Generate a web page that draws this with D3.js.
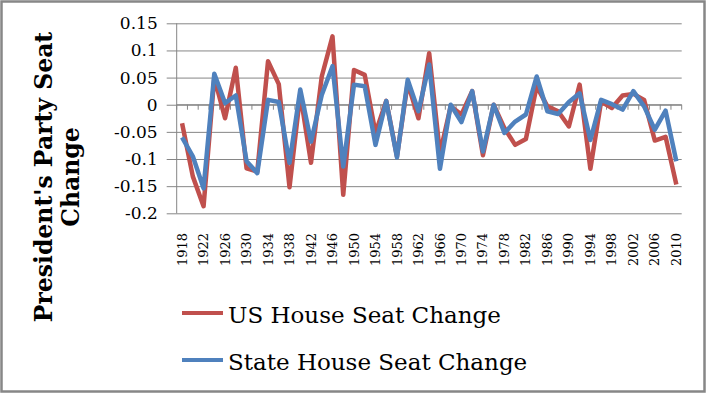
<!DOCTYPE html>
<html>
<head>
<meta charset="utf-8">
<script src="https://cdn.jsdelivr.net/npm/d3@7"></script>
<style>
  body { margin: 0; background: #fff; }
  svg { display: block; }
  .grid line { stroke: #868686; stroke-width: 1; }
  text { font-family: "DejaVu Serif", serif; fill: #000; }
</style>
</head>
<body>
<svg width="706" height="393"></svg>
<script>
const years = [1918, 1920, 1922, 1924, 1926, 1928, 1930, 1932, 1934, 1936, 1938, 1940,
  1942, 1944, 1946, 1948, 1950, 1952, 1954, 1956, 1958, 1960, 1962, 1964, 1966, 1968,
  1970, 1972, 1974, 1976, 1978, 1980, 1982, 1984, 1986, 1988, 1990, 1992, 1994, 1996,
  1998, 2000, 2002, 2004, 2006, 2008, 2010];

const usHouse = [-0.034, -0.132, -0.187, 0.05, -0.025, 0.068, -0.117, -0.123, 0.08, 0.038,
  -0.152, 0.02, -0.107, 0.052, 0.126, -0.166, 0.064, 0.055, -0.052, 0.007, -0.095, 0.04,
  -0.025, 0.095, -0.09, -0.003, -0.018, 0.025, -0.093, 0, -0.043, -0.074, -0.063, 0.034,
  -0.003, -0.012, -0.04, 0.037, -0.118, 0.006, -0.006, 0.017, 0.02, 0.009, -0.066, -0.059, -0.147];

const stateHouse = [-0.06, -0.095, -0.154, 0.057, 0.003, 0.017, -0.104, -0.126, 0.009, 0.005,
  -0.107, 0.028, -0.068, 0.018, 0.071, -0.114, 0.037, 0.034, -0.074, 0.007, -0.097, 0.046,
  -0.012, 0.074, -0.118, 0, -0.032, 0.025, -0.086, 0, -0.052, -0.031, -0.018, 0.052,
  -0.012, -0.017, 0.005, 0.021, -0.065, 0.009, 0.001, -0.009, 0.025, -0.003, -0.046, -0.011, -0.104];

const yTicks = [0.15, 0.1, 0.05, 0, -0.05, -0.1, -0.15, -0.2];

const series = [
  { name: "US House Seat Change", values: usHouse, color: "#C0504D" },
  { name: "State House Seat Change", values: stateHouse, color: "#4F81BD" },
];

const svg = d3.select("svg");

// chart frame
svg.append("rect")
  .attr("x", 1.5).attr("y", 1.5)
  .attr("width", 703).attr("height", 390)
  .attr("fill", "none")
  .attr("stroke", "#878787")
  .attr("stroke-width", 2.5);

const plot = { left: 176.7, right: 681.7, top: 23.3, bottom: 213.3 };

const x = d3.scaleBand().domain(years).range([plot.left, plot.right]).padding(0);
const y = d3.scaleLinear().domain([-0.2, 0.15]).range([plot.bottom, plot.top]);
const cx = d => x(d) + x.bandwidth() / 2;

// horizontal gridlines + left axis
const yAxis = d3.axisLeft(y)
  .tickValues(yTicks)
  .tickSize(-(plot.right - plot.left))
  .tickPadding(0)
  .tickFormat(d => d === 0 ? "0" : String(+d.toFixed(2)));

const gy = svg.append("g")
  .attr("class", "grid")
  .attr("transform", `translate(${plot.left},0)`)
  .call(yAxis);
gy.select(".domain").remove();
gy.selectAll(".tick line").attr("x1", -10);
gy.selectAll(".tick text")
  .attr("x", -19)
  .attr("font-size", 17)
  .attr("font-family", "DejaVu Serif, serif");

svg.append("line")
  .attr("x1", plot.left).attr("x2", plot.left)
  .attr("y1", plot.top).attr("y2", plot.bottom)
  .attr("stroke", "#868686");

// category axis crossing at zero
const y0 = y(0);
svg.append("line")
  .attr("x1", plot.left).attr("x2", plot.right)
  .attr("y1", y0).attr("y2", y0)
  .attr("stroke", "#868686");

svg.append("g")
  .selectAll("line")
  .data(years.concat([null]))
  .join("line")
  .attr("x1", (d, i) => i < years.length ? x(d) : plot.right)
  .attr("x2", (d, i) => i < years.length ? x(d) : plot.right)
  .attr("y1", y0).attr("y2", y0 + 5)
  .attr("stroke", "#868686");

// year labels at the bottom, every other election
svg.append("g")
  .selectAll("text")
  .data(years.filter((d, i) => i % 2 === 0))
  .join("text")
  .attr("transform", d => `translate(${cx(d)},233) rotate(-90)`)
  .attr("text-anchor", "end")
  .attr("dy", "0.35em")
  .attr("font-size", 13)
  .text(d => d);

// lines
const line = d3.line()
  .x((d, i) => cx(years[i]))
  .y(d => y(d));

svg.append("g")
  .selectAll("path")
  .data(series)
  .join("path")
  .attr("d", d => line(d.values))
  .attr("fill", "none")
  .attr("stroke", d => d.color)
  .attr("stroke-width", 4.5)
  .attr("stroke-linejoin", "round");

// y axis title
const title = svg.append("text")
  .attr("transform", "translate(0,177) rotate(-90)")
  .attr("text-anchor", "middle")
  .attr("font-size", 23.5)
  .attr("font-weight", "bold");
title.append("tspan").attr("x", 0).attr("y", 52).text("President's Party Seat");
title.append("tspan").attr("x", 0).attr("y", 79).text("Change");

// legend
const legend = svg.append("g")
  .selectAll("g")
  .data(series)
  .join("g")
  .attr("transform", (d, i) => `translate(182,${313 + i * 47})`);

legend.append("line")
  .attr("x1", 0).attr("x2", 41)
  .attr("stroke", d => d.color)
  .attr("stroke-width", 4);

legend.append("text")
  .attr("x", 46).attr("y", 10)
  .attr("font-size", 23)
  .text(d => d.name);
</script>
</body>
</html>
